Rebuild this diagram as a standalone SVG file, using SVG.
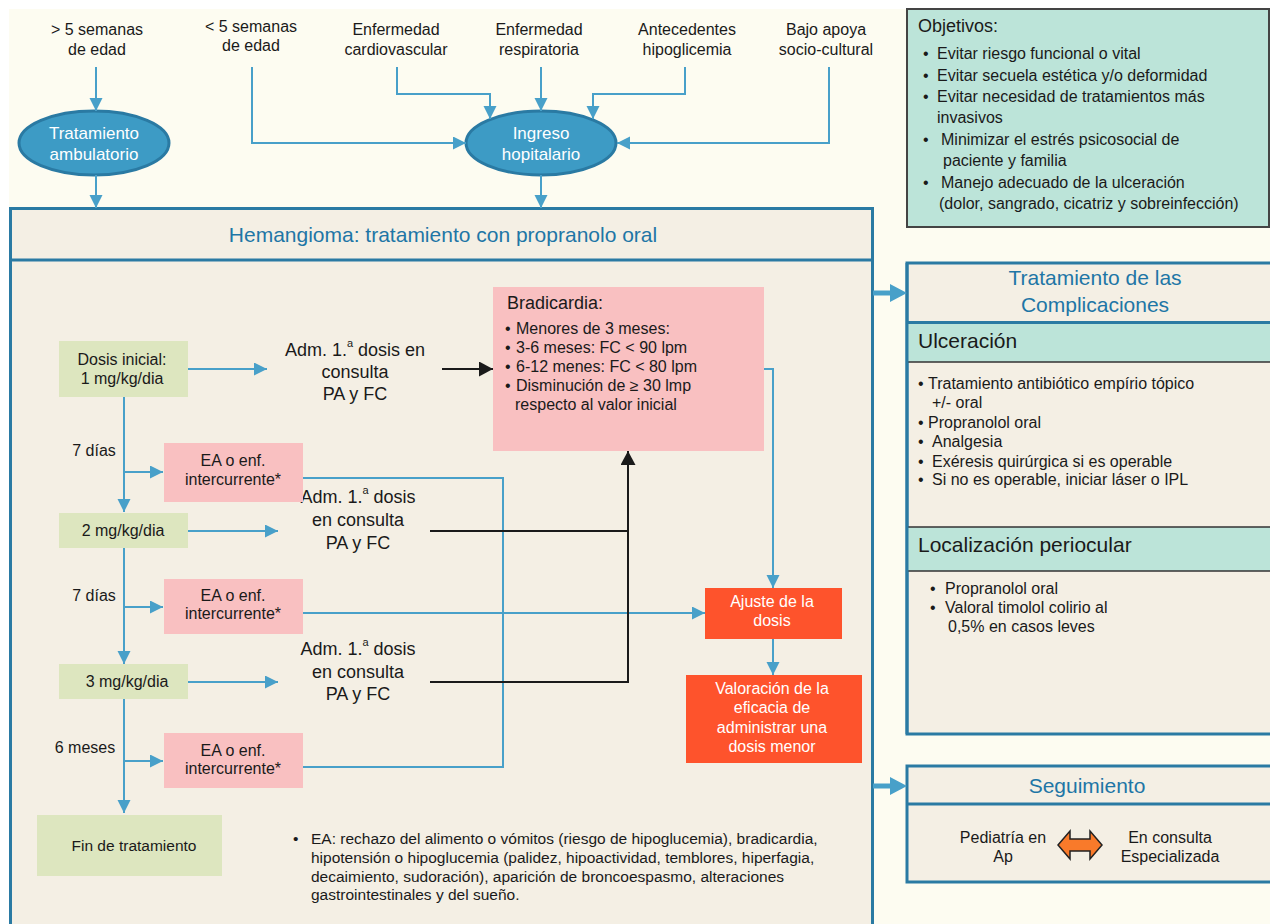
<svg xmlns="http://www.w3.org/2000/svg" width="1270" height="924" viewBox="0 0 1270 924">
<defs>
<style>
text{font-family:"Liberation Sans",Arial,sans-serif;fill:#1a1a1a}
.t16{font-size:16px}
.t15{font-size:15.5px}
.t18{font-size:18px}
.c{text-anchor:middle}
.w{fill:#ffffff}
.ttl{font-size:21px;fill:#1e76a6}
.h21{font-size:21px}
.bl{fill:none;stroke:#48a0c9;stroke-width:2}
.bk{fill:none;stroke:#1a1a1a;stroke-width:2}
.frame{fill:#f4efe4;stroke:#2a7aa3;stroke-width:3}
.div{stroke:#2a7aa3;stroke-width:3}
.green{fill:#dde6bf}
.pink{fill:#f9c0c1}
.red{fill:#fe532c}
.oval{fill:#3d9bc5;stroke:#2a7aa3;stroke-width:3}
.band{fill:#bce4d9;stroke:#333333;stroke-width:1.5}
</style>
<marker id="ab" markerUnits="userSpaceOnUse" markerWidth="14" markerHeight="14" refX="13" refY="6.5" orient="auto"><path d="M0,0 L13,6.5 L0,13 z" fill="#48a0c9"/></marker>
<marker id="ak" markerUnits="userSpaceOnUse" markerWidth="16" markerHeight="16" refX="14" refY="7.5" orient="auto"><path d="M0,0 L14,7.5 L0,15 z" fill="#1a1a1a"/></marker>
</defs>
<rect x="0" y="0" width="1270" height="924" fill="#ffffff"/>
<rect x="9" y="9" width="1261" height="915" fill="#fdfcf1"/>

<g id="objetivos">
<rect x="907" y="9" width="362" height="218" fill="#bce4d9" stroke="#444444" stroke-width="2"/>
<text x="918" y="32" style="font-size:18px">Objetivos:</text>
<g style="font-size:16px">
<text x="923" y="59">•</text><text x="937" y="59">Evitar riesgo funcional o vital</text>
<text x="923" y="81">•</text><text x="937" y="81">Evitar secuela estética y/o deformidad</text>
<text x="923" y="102">•</text><text x="937" y="102">Evitar necesidad de tratamientos más</text>
<text x="937" y="123">invasivos</text>
<text x="923" y="145">•</text><text x="941" y="145">Minimizar el estrés psicosocial de</text>
<text x="943" y="166">paciente y familia</text>
<text x="923" y="188">•</text><text x="941" y="188">Manejo adecuado de la ulceración</text>
<text x="939" y="209">(dolor, sangrado, cicatriz y sobreinfección)</text>
</g>
</g>

<g id="labels-top" class="t16">
<text id="lbl-mas5" class="t16 c" x="97" y="35">&gt; 5 semanas<tspan x="97" y="55">de edad</tspan></text>
<text id="lbl-menos5" class="t16 c" x="251" y="32">&lt; 5 semanas<tspan x="251" y="51">de edad</tspan></text>
<text id="lbl-cardio" class="t16 c" x="396" y="35">Enfermedad<tspan x="396" y="55">cardiovascular</tspan></text>
<text id="lbl-resp" class="t16 c" x="539" y="35">Enfermedad<tspan x="539" y="55">respiratoria</tspan></text>
<text id="lbl-hipo" class="t16 c" x="687" y="35">Antecedentes<tspan x="687" y="55">hipoglicemia</tspan></text>
<text id="lbl-socio" class="t16 c" x="826" y="35">Bajo apoya<tspan x="826" y="55">socio-cultural</tspan></text>
</g>

<g id="ambulatorio">
<ellipse class="oval" cx="94" cy="143" rx="75" ry="32"/>
<text class="c w" style="font-size:17px" x="94" y="139">Tratamiento<tspan x="94" y="160">ambulatorio</tspan></text>
</g>
<g id="ingreso">
<ellipse class="oval" cx="541" cy="143" rx="75" ry="32"/>
<text class="c w" style="font-size:17px" x="541" y="139">Ingreso<tspan x="541" y="160">hopitalario</tspan></text>
</g>

<g id="main-box">
<rect class="frame" x="10.5" y="208.5" width="862" height="740"/>
<line class="div" x1="10.5" y1="260" x2="872.5" y2="260"/>
<text class="ttl c" x="443" y="242">Hemangioma: tratamiento con propranolo oral</text>
</g>

<g id="dosis1">
<rect class="green" x="59" y="341" width="129" height="56"/>
<text class="t16 c" x="122" y="365">Dosis inicial:<tspan x="122" y="384">1 mg/kg/dia</tspan></text>
</g>
<g id="dosis2">
<rect class="green" x="59" y="513" width="129" height="35"/>
<text class="t16 c" x="123" y="536">2 mg/kg/dia</text>
</g>
<g id="dosis3">
<rect class="green" x="59" y="664" width="129" height="35"/>
<text class="t16 c" x="127" y="687">3 mg/kg/dia</text>
</g>
<g id="fin">
<rect class="green" x="37" y="815" width="185" height="61"/>
<text class="c" style="font-size:15.5px" x="134" y="851">Fin de tratamiento</text>
</g>

<g id="adm1">
<text class="t18 c" x="355" y="356">Adm. 1.<tspan dy="-9" style="font-size:11px">a</tspan><tspan dy="9"> dosis en</tspan></text>
<text class="t18 c" x="355" y="378">consulta</text>
<text class="t18 c" x="355" y="400">PA y FC</text>
</g>
<g id="adm2">
<text class="t18 c" x="358" y="503">Adm. 1.<tspan dy="-9" style="font-size:11px">a</tspan><tspan dy="9"> dosis</tspan></text>
<text class="t18 c" x="358" y="526">en consulta</text>
<text class="t18 c" x="358" y="549">PA y FC</text>
</g>
<g id="adm3">
<text class="t18 c" x="358" y="655">Adm. 1.<tspan dy="-9" style="font-size:11px">a</tspan><tspan dy="9"> dosis</tspan></text>
<text class="t18 c" x="358" y="678">en consulta</text>
<text class="t18 c" x="358" y="700">PA y FC</text>
</g>

<g id="ea1">
<rect class="pink" x="164" y="443" width="139" height="59"/>
<text class="t16 c" x="233" y="466">EA o enf.<tspan x="233" y="485">intercurrente*</tspan></text>
</g>
<g id="ea2">
<rect class="pink" x="164" y="579" width="139" height="55"/>
<text class="t16 c" x="233" y="601">EA o enf.<tspan x="233" y="619">intercurrente*</tspan></text>
</g>
<g id="ea3">
<rect class="pink" x="164" y="733" width="139" height="55"/>
<text class="t16 c" x="233" y="756">EA o enf.<tspan x="233" y="774">intercurrente*</tspan></text>
</g>

<g id="dias-labels">
<text class="t16 c" x="94" y="456">7 días</text>
<text class="t16 c" x="94" y="601">7 días</text>
<text class="t16 c" x="85" y="753">6 meses</text>
</g>

<g id="bradicardia">
<rect class="pink" x="493" y="287" width="271" height="164"/>
<text class="t18" x="507" y="309">Bradicardia:</text>
<g class="t16">
<text x="505" y="334">•</text><text x="516" y="334">Menores de 3 meses:</text>
<text x="505" y="353">•</text><text x="516" y="353">3-6 meses: FC &lt; 90 lpm</text>
<text x="505" y="372">•</text><text x="516" y="372">6-12 menes: FC &lt; 80 lpm</text>
<text x="505" y="391">•</text><text x="516" y="391">Disminución de ≥ 30 lmp</text>
<text x="515" y="410">respecto al valor inicial</text>
</g>
</g>

<g id="ajuste">
<rect class="red" x="705" y="588" width="137" height="51"/>
<text class="t16 c w" x="772" y="607">Ajuste de la<tspan x="772" y="626">dosis</tspan></text>
</g>
<g id="valoracion">
<rect class="red" x="686" y="675" width="176" height="88"/>
<text class="t16 c w" x="772" y="694">Valoración de la<tspan x="772" y="713">eficacia de</tspan><tspan x="772" y="733">administrar una</tspan><tspan x="772" y="752">dosis menor</tspan></text>
</g>

<g id="nota-ea" style="font-size:15.5px">
<text x="293" y="844">•</text>
<text x="311" y="844">EA: rechazo del alimento o vómitos (riesgo de hipoglucemia), bradicardia,</text>
<text x="311" y="863">hipotensión o hipoglucemia (palidez, hipoactividad, temblores, hiperfagia,</text>
<text x="311" y="882">decaimiento, sudoración), aparición de broncoespasmo, alteraciones</text>
<text x="311" y="900">gastrointestinales y del sueño.</text>
</g>

<g id="complicaciones">
<rect class="frame" x="907" y="263" width="380" height="471"/>
<rect class="band" x="907" y="323" width="380" height="39"/>
<rect class="band" x="907" y="527" width="380" height="44"/>
<line class="div" x1="907" y1="322.5" x2="1280" y2="322.5"/>
<line class="div" x1="907" y1="263" x2="907" y2="734"/>
<text class="ttl c" x="1095" y="285">Tratamiento de las<tspan x="1095" y="312">Complicaciones</tspan></text>
<text class="h21" x="918" y="348">Ulceración</text>
<g class="t16">
<text x="918" y="389">•</text><text x="928" y="389">Tratamiento antibiótico empírio tópico</text>
<text x="932" y="408">+/- oral</text>
<text x="918" y="428">•</text><text x="928" y="428">Propranolol oral</text>
<text x="918" y="447">•</text><text x="932" y="447">Analgesia</text>
<text x="918" y="467">•</text><text x="932" y="467">Exéresis quirúrgica si es operable</text>
<text x="918" y="485">•</text><text x="932" y="485">Si no es operable, iniciar láser o IPL</text>
</g>
<text class="h21" x="918" y="552">Localización periocular</text>
<g class="t16">
<text x="930" y="594">•</text><text x="945" y="594">Propranolol oral</text>
<text x="930" y="613">•</text><text x="945" y="613">Valoral timolol colirio al</text>
<text x="948" y="632">0,5% en casos leves</text>
</g>
</g>

<g id="seguimiento">
<rect class="frame" x="907" y="766" width="380" height="116"/>
<line class="div" x1="907" y1="804" x2="1280" y2="804"/>
<text class="ttl c" x="1087" y="793">Seguimiento</text>
<text class="t16 c" x="1003" y="843">Pediatría en<tspan x="1003" y="862">Ap</tspan></text>
<text class="t16 c" x="1170" y="843">En consulta<tspan x="1170" y="862">Especializada</tspan></text>
<polygon points="1058,845 1070,831 1070,839 1090,839 1090,831 1102,845 1090,859 1090,851 1070,851 1070,859" fill="#f97a2a" stroke="#222222" stroke-width="1.5" stroke-linejoin="miter"/>
</g>

<g id="connectors">
<path class="bl" d="M96,67 V111" marker-end="url(#ab)"/>
<path class="bl" d="M96,175 V208" marker-end="url(#ab)"/>
<path class="bl" d="M252,67 V143 H466" marker-end="url(#ab)"/>
<path class="bl" d="M397,67 V94 H490 V119" marker-end="url(#ab)"/>
<path class="bl" d="M541,67 V111" marker-end="url(#ab)"/>
<path class="bl" d="M685,67 V94 H593 V119" marker-end="url(#ab)"/>
<path class="bl" d="M829,67 V143 H617" marker-end="url(#ab)"/>
<path class="bl" d="M541,175 V208" marker-end="url(#ab)"/>
<path class="bl" d="M188,369 H267" marker-end="url(#ab)"/>
<path class="bl" d="M124,397 V512" marker-end="url(#ab)"/>
<path class="bl" d="M124,472 H163" marker-end="url(#ab)"/>
<path class="bl" d="M188,531 H278" marker-end="url(#ab)"/>
<path class="bl" d="M124,548 V664" marker-end="url(#ab)"/>
<path class="bl" d="M124,607 H163" marker-end="url(#ab)"/>
<path class="bl" d="M188,682 H278" marker-end="url(#ab)"/>
<path class="bl" d="M124,699 V813" marker-end="url(#ab)"/>
<path class="bl" d="M124,761 H163" marker-end="url(#ab)"/>
<path class="bl" d="M303,478 H503 V767 H303"/>
<path class="bl" d="M303,613 H705" marker-end="url(#ab)"/>
<path class="bl" d="M764,369 H773 V588" marker-end="url(#ab)"/>
<path class="bl" d="M773,639 V675" marker-end="url(#ab)"/>
<path class="bk" d="M442,369 H493" marker-end="url(#ak)"/>
<path class="bk" d="M430,531 H628"/>
<path class="bk" d="M430,682 H628 V451" marker-end="url(#ak)"/>
<polygon points="873,290.5 890,290.5 890,284 907,293 890,302 890,295.5 873,295.5" fill="#48a0c9"/>
<polygon points="873,783.5 890,783.5 890,777 907,786 890,795 890,788.5 873,788.5" fill="#48a0c9"/>
</g>
</svg>
